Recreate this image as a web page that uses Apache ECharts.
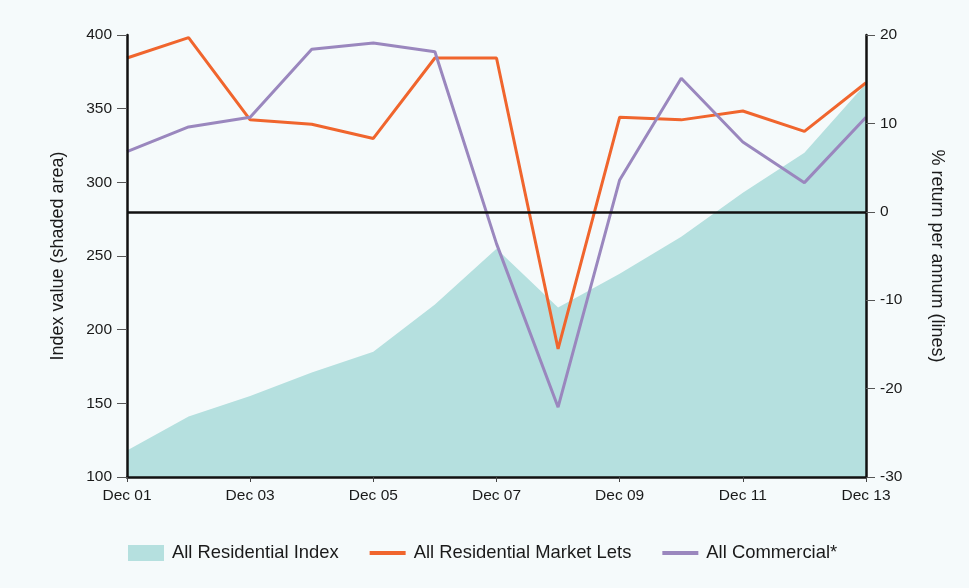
<!DOCTYPE html>
<html>
<head>
<meta charset="utf-8">
<script src="https://cdn.jsdelivr.net/npm/echarts@6/dist/echarts.min.js"></script>
<style>
  html, body { margin: 0; padding: 0; background: #f5fafb; }
  #chart { width: 969px; height: 588px; }
</style>
</head>
<body>
<div id="chart"></div>
<script>
// x categories
const months = ['Dec 01', 'Dec 02', 'Dec 03', 'Dec 04', 'Dec 05', 'Dec 06', 'Dec 07',
                'Dec 08', 'Dec 09', 'Dec 10', 'Dec 11', 'Dec 12', 'Dec 13'];
// left axis: index value
const residentialIndex = [118, 141, 155, 171, 185, 217, 255, 215, 238, 263, 293, 320, 367];
// right axis: % return per annum
const marketLets = [17.4, 19.7, 10.4, 9.9, 8.3, 17.4, 17.4, -15.5, 10.7, 10.4, 11.4, 9.1, 14.6];
const commercial = [6.8, 9.6, 10.7, 18.4, 19.1, 18.1, -3.6, -22.1, 3.6, 15.1, 7.9, 3.3, 10.7];

const textColor = '#1a1a1a';
const fontFamily = 'Liberation Sans, Arial, sans-serif';
// thin bar legend icon (the M points keep the 36x16 box so the bar stays 4px tall)
const lineIcon = 'path://M0,0 M36,16 M0,6 L36,6 L36,10 L0,10 Z';

const chart = echarts.init(document.getElementById('chart'));
chart.setOption({
    backgroundColor: '#f5fafb',
    textStyle: { fontFamily: fontFamily, color: textColor },
    grid: { left: 127, right: 103, top: 35, bottom: 111 },
    legend: {
        bottom: 26,
        left: 128,
        padding: 0,
        itemWidth: 36,
        itemHeight: 16,
        itemGap: 31,
        textStyle: { fontSize: 18.4, color: textColor, fontFamily: fontFamily, padding: [0, 0, 0, 3] },
        data: [
            { name: 'All Residential Index', icon: 'rect' },
            { name: 'All Residential Market Lets', icon: lineIcon },
            { name: 'All Commercial*', icon: lineIcon }
        ]
    },
    xAxis: {
        type: 'category',
        data: months,
        boundaryGap: false,
        z: 10,
        axisLine: { onZero: false, lineStyle: { color: '#111', width: 2.5 } },
        axisTick: { interval: 1, length: 5, lineStyle: { color: '#444', width: 1 } },
        axisLabel: { interval: 1, fontSize: 15.5, color: textColor, margin: 11 }
    },
    yAxis: [
        {
            type: 'value',
            min: 100,
            max: 400,
            interval: 50,
            z: 10,
            name: 'Index value (shaded area)',
            nameLocation: 'middle',
            nameGap: 60,
            nameTextStyle: { fontSize: 18, color: textColor },
            axisLine: { show: true, lineStyle: { color: '#111', width: 2.5 } },
            axisTick: { show: true, length: 10, lineStyle: { color: '#555', width: 1 } },
            axisLabel: { fontSize: 15.5, color: textColor, margin: 15 },
            splitLine: { show: false }
        },
        {
            type: 'value',
            min: -30,
            max: 20,
            interval: 10,
            z: 10,
            name: '% return per annum (lines)',
            nameLocation: 'middle',
            nameGap: 62,
            nameRotate: -90,
            nameTextStyle: { fontSize: 18, color: textColor },
            axisLine: { show: true, lineStyle: { color: '#111', width: 2.5 } },
            axisTick: { show: true, length: 9, lineStyle: { color: '#555', width: 1 } },
            axisLabel: { fontSize: 15.5, color: textColor, margin: 14 },
            splitLine: { show: false }
        }
    ],
    series: [
        {
            name: 'All Residential Index',
            type: 'line',
            yAxisIndex: 0,
            data: residentialIndex,
            symbol: 'none',
            color: '#b5e0df',
            lineStyle: { width: 0 },
            areaStyle: { color: '#b5e0df', opacity: 1 },
            z: 1
        },
        {
            name: 'All Residential Market Lets',
            type: 'line',
            yAxisIndex: 1,
            data: marketLets,
            symbol: 'none',
            color: '#f0652d',
            lineStyle: { width: 3, color: '#f0652d' },
            markLine: {
                silent: true,
                symbol: 'none',
                label: { show: false },
                lineStyle: { color: '#111', width: 2.5, type: 'solid' },
                data: [{ yAxis: 0 }]
            },
            z: 3
        },
        {
            name: 'All Commercial*',
            type: 'line',
            yAxisIndex: 1,
            data: commercial,
            symbol: 'none',
            color: '#9a87be',
            lineStyle: { width: 3, color: '#9a87be' },
            z: 3
        }
    ]
});
</script>
</body>
</html>
